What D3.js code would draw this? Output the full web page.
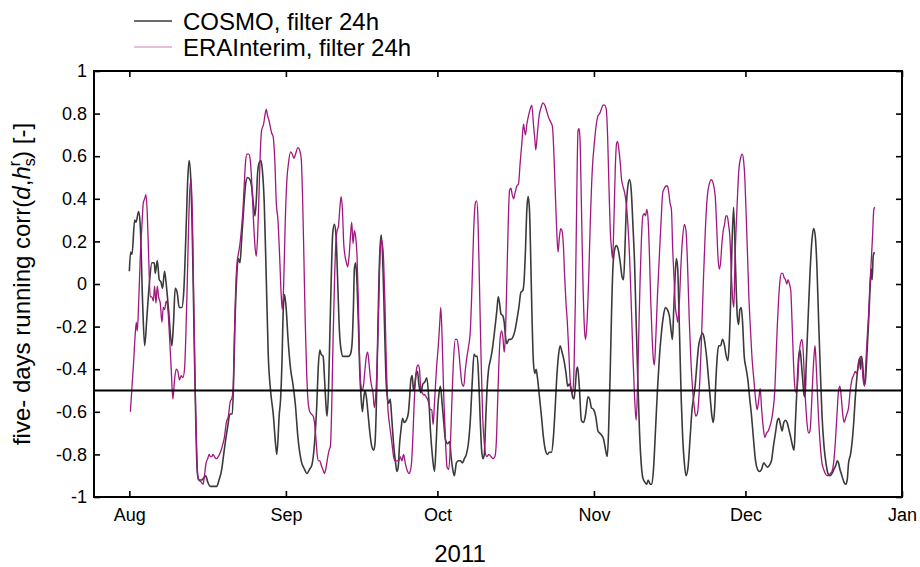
<!DOCTYPE html>
<html>
<head>
<meta charset="utf-8">
<script src="https://cdn.jsdelivr.net/npm/d3@7"></script>
<style>
  html, body { margin: 0; padding: 0; background: #fff; }
  svg { display: block; font-family: "Liberation Sans", Arial, Helvetica, sans-serif; }
</style>
</head>
<body>
<svg id="chart" width="920" height="567"></svg>
<script>
// ---------------- data (day offset from 2011-08-01, correlation) ----------------
const startDate = new Date(2011, 7, 1);
const seriesNames = ["COSMO, filter 24h", "ERAInterim, filter 24h"];
const monthTicks = ["2011-08-01", "2011-09-01", "2011-10-01", "2011-11-01", "2011-12-01", "2012-01-01"];
const monthLabels = ["Aug", "Sep", "Oct", "Nov", "Dec", "Jan"];
const yTicks = [1, 0.8, 0.6, 0.4, 0.2, 0, -0.2, -0.4, -0.6, -0.8, -1];
const thresholdValue = -0.5;
const xTitle = "2011";

const cosmo = [
[0.00,0.06],[0.26,0.15],[0.53,0.14],[1.05,0.30],[1.32,0.29],[1.84,0.34],[2.17,0.27],[2.63,-0.09],[3.03,-0.29],[3.49,-0.15],
[3.95,0.00],[4.47,0.10],[4.93,0.10],[5.13,0.05],[5.53,0.11],[5.92,0.02],[6.25,0.01],[6.58,-0.02],[6.97,0.06],[7.30,0.00],
[7.76,-0.12],[8.42,-0.29],[8.75,-0.18],[9.08,-0.02],[9.47,-0.04],[9.87,-0.11],[10.39,-0.11],[10.79,-0.03],[11.25,0.27],[11.58,0.50],
[11.84,0.58],[12.17,0.49],[12.50,0.19],[12.89,-0.33],[13.16,-0.65],[13.42,-0.87],[13.68,-0.92],[14.34,-0.92],[14.74,-0.91],[15.13,-0.90],
[15.53,-0.93],[15.99,-0.95],[16.64,-0.95],[17.30,-0.95],[17.76,-0.92],[18.29,-0.87],[18.68,-0.80],[19.08,-0.73],[19.47,-0.67],[19.93,-0.61],
[20.39,-0.61],[20.66,-0.44],[20.92,-0.18],[21.25,0.03],[21.58,0.12],[21.91,0.10],[22.24,0.21],[22.63,0.35],[23.03,0.47],[23.42,0.50],
[23.88,0.49],[24.21,0.46],[24.54,0.38],[24.87,0.32],[25.13,0.39],[25.39,0.52],[25.72,0.57],[26.05,0.58],[26.32,0.54],[26.71,0.38],
[27.11,0.03],[27.50,-0.33],[27.96,-0.50],[28.49,-0.61],[28.95,-0.75],[29.21,-0.80],[29.69,-0.61],[29.95,-0.54],[30.22,-0.37],[30.48,-0.12],
[30.74,-0.05],[31.07,-0.12],[31.40,-0.25],[31.93,-0.40],[32.39,-0.47],[32.85,-0.56],[33.38,-0.72],[34.03,-0.83],[34.69,-0.87],[35.15,-0.89],
[35.68,-0.87],[36.14,-0.85],[36.66,-0.75],[37.13,-0.56],[37.39,-0.40],[37.72,-0.31],[37.98,-0.33],[38.38,-0.34],[38.64,-0.44],[38.97,-0.58],
[39.16,-0.62],[39.43,-0.50],[39.69,-0.25],[39.95,0.00],[40.28,0.24],[40.61,0.28],[40.94,0.22],[41.27,0.00],[41.60,-0.22],[41.93,-0.31],
[42.32,-0.34],[42.91,-0.34],[43.38,-0.34],[43.77,-0.33],[44.10,-0.28],[44.36,-0.12],[44.56,0.07],[44.82,0.10],[45.09,0.00],[45.35,-0.18],
[45.61,-0.40],[45.88,-0.53],[46.14,-0.60],[46.40,-0.54],[46.66,-0.50],[46.93,-0.53],[47.19,-0.59],[47.59,-0.69],[47.98,-0.76],[48.38,-0.78],
[48.64,-0.75],[48.90,-0.58],[49.16,-0.28],[49.43,0.03],[49.69,0.19],[49.89,0.23],[50.15,0.13],[50.48,-0.15],[50.81,-0.44],[51.14,-0.54],
[51.40,-0.56],[51.66,-0.54],[51.93,-0.62],[52.32,-0.75],[52.72,-0.84],[52.98,-0.88],[53.24,-0.86],[53.51,-0.75],[53.77,-0.69],[54.10,-0.63],
[54.43,-0.65],[54.82,-0.64],[55.22,-0.61],[55.48,-0.54],[55.74,-0.45],[56.01,-0.43],[56.27,-0.50],[56.53,-0.47],[56.80,-0.42],[57.06,-0.41],
[57.32,-0.47],[57.72,-0.51],[58.11,-0.47],[58.51,-0.46],[58.90,-0.44],[59.30,-0.54],[59.63,-0.69],[60.02,-0.81],[60.42,-0.88],[60.75,-0.75],
[61.08,-0.58],[61.40,-0.50],[61.60,-0.48],[61.93,-0.56],[62.26,-0.65],[62.59,-0.73],[63.05,-0.75],[63.44,-0.74],[63.71,-0.81],[64.04,-0.87],
[64.36,-0.90],[64.76,-0.84],[65.15,-0.83],[65.55,-0.83],[65.94,-0.84],[66.34,-0.82],[66.73,-0.80],[67.13,-0.75],[67.52,-0.64],[67.92,-0.45],
[68.25,-0.33],[68.58,-0.34],[68.90,-0.34],[69.23,-0.48],[69.50,-0.65],[69.76,-0.78],[70.02,-0.82],[70.29,-0.80],[70.55,-0.65],[70.81,-0.50],
[71.14,-0.40],[71.47,-0.36],[71.86,-0.31],[72.13,-0.26],[72.52,-0.18],[72.79,-0.12],[73.05,-0.06],[73.31,-0.09],[73.58,-0.14],[73.97,-0.15],
[74.23,-0.18],[74.50,-0.25],[74.76,-0.28],[75.15,-0.26],[75.55,-0.26],[75.94,-0.25],[76.34,-0.22],[76.73,-0.17],[77.13,-0.11],[77.52,-0.04],
[77.92,-0.03],[78.18,0.02],[78.44,0.16],[78.71,0.35],[78.97,0.41],[79.23,0.35],[79.50,0.10],[79.76,-0.18],[80.02,-0.37],[80.29,-0.42],
[80.55,-0.40],[80.81,-0.44],[81.21,-0.53],[81.60,-0.62],[82.00,-0.72],[82.39,-0.78],[82.79,-0.80],[83.18,-0.79],[83.58,-0.79],[83.97,-0.72],
[84.30,-0.59],[84.63,-0.44],[84.96,-0.34],[85.29,-0.29],[85.68,-0.32],[86.08,-0.36],[86.47,-0.42],[86.80,-0.48],[87.13,-0.47],[87.53,-0.50],
[87.79,-0.53],[88.05,-0.54],[88.31,-0.48],[88.58,-0.40],[88.77,-0.39],[89.10,-0.48],[89.51,-0.64],[89.97,-0.65],[90.36,-0.61],[90.82,-0.53],
[91.15,-0.54],[91.48,-0.58],[91.94,-0.59],[92.34,-0.62],[92.80,-0.69],[93.13,-0.70],[93.52,-0.71],[93.92,-0.73],[94.31,-0.78],[94.64,-0.81],
[94.90,-0.69],[95.23,-0.40],[95.50,-0.12],[95.76,0.08],[96.09,0.16],[96.42,0.18],[96.81,0.16],[97.21,0.10],[97.60,0.03],[97.86,0.02],
[98.13,0.16],[98.39,0.35],[98.72,0.46],[99.05,0.49],[99.38,0.44],[99.71,0.28],[100.04,0.10],[100.36,-0.18],[100.69,-0.45],[101.02,-0.69],
[101.35,-0.84],[101.68,-0.91],[102.07,-0.93],[102.47,-0.94],[102.73,-0.92],[103.13,-0.94],[103.46,-0.94],[103.79,-0.87],[104.18,-0.69],[104.57,-0.50],
[104.97,-0.34],[105.36,-0.23],[105.76,-0.15],[106.15,-0.11],[106.55,-0.12],[106.94,-0.15],[107.34,-0.23],[107.54,-0.26],[107.80,-0.12],[108.06,0.03],
[108.32,0.12],[108.59,0.07],[108.79,-0.09],[109.05,-0.33],[109.31,-0.56],[109.57,-0.72],[109.90,-0.84],[110.23,-0.90],[110.63,-0.86],[111.02,-0.73],
[111.42,-0.59],[111.75,-0.53],[112.07,-0.47],[112.34,-0.39],[112.73,-0.29],[113.13,-0.25],[113.46,-0.23],[113.79,-0.25],[114.05,-0.29],[114.38,-0.36],
[114.71,-0.45],[115.04,-0.54],[115.36,-0.62],[115.63,-0.65],[115.89,-0.59],[116.15,-0.45],[116.42,-0.34],[116.68,-0.29],[117.07,-0.29],[117.47,-0.26],
[117.86,-0.29],[118.13,-0.33],[118.52,-0.36],[118.78,-0.28],[119.05,-0.09],[119.31,0.16],[119.65,0.36],[120.05,0.07],[120.38,-0.15],[120.64,-0.19],
[120.90,-0.12],[121.17,-0.11],[121.43,-0.18],[121.76,-0.34],[122.15,-0.40],[122.48,-0.45],[122.81,-0.53],[123.21,-0.62],[123.60,-0.73],[124.00,-0.83],
[124.39,-0.87],[124.78,-0.88],[125.18,-0.87],[125.64,-0.84],[125.97,-0.85],[126.36,-0.86],[126.76,-0.85],[127.15,-0.83],[127.55,-0.76],[127.94,-0.70],
[128.34,-0.64],[128.60,-0.63],[128.93,-0.66],[129.26,-0.69],[129.59,-0.65],[129.92,-0.64],[130.25,-0.65],[130.57,-0.68],[130.97,-0.72],[131.23,-0.75],
[131.63,-0.78],[131.89,-0.65],[132.22,-0.48],[132.55,-0.34],[132.81,-0.31],[133.07,-0.37],[133.34,-0.45],[133.60,-0.52],[133.80,-0.53],[134.00,-0.40],
[134.39,-0.17],[134.78,0.05],[135.18,0.21],[135.51,0.26],[135.84,0.22],[136.17,0.07],[136.50,-0.18],[136.82,-0.40],[137.15,-0.61],[137.55,-0.76],
[137.94,-0.84],[138.34,-0.89],[138.73,-0.90],[139.13,-0.89],[139.52,-0.87],[139.92,-0.85],[140.18,-0.83],[140.44,-0.84],[140.71,-0.87],[141.10,-0.90],
[141.50,-0.93],[141.89,-0.94],[142.15,-0.92],[142.42,-0.84],[142.81,-0.80],[143.21,-0.72],[143.47,-0.64],[143.73,-0.54],[144.06,-0.44],[144.39,-0.37],
[144.59,-0.35],[144.79,-0.40],[144.98,-0.34],[145.18,-0.37],[145.44,-0.45],[145.71,-0.47],[145.97,-0.37],[146.23,-0.25],[146.50,-0.12],[146.76,0.02],
[146.96,0.07],[147.09,0.02],[147.29,0.13],[147.55,0.15]
];

const era = [
[0.20,-0.60],[0.53,-0.48],[0.86,-0.36],[1.18,-0.23],[1.38,-0.18],[1.58,-0.22],[1.84,-0.09],[2.17,0.13],[2.50,0.28],[2.76,0.38],
[3.03,0.40],[3.29,0.42],[3.55,0.33],[3.82,0.13],[4.14,-0.06],[4.47,-0.06],[4.74,-0.08],[5.00,-0.01],[5.26,-0.09],[5.53,-0.01],
[5.79,-0.06],[6.12,-0.09],[6.45,-0.18],[6.71,-0.11],[6.97,-0.12],[7.30,-0.08],[7.63,-0.12],[7.96,-0.25],[8.29,-0.40],[8.62,-0.54],
[8.95,-0.45],[9.28,-0.40],[9.61,-0.41],[9.93,-0.45],[10.26,-0.43],[10.59,-0.44],[10.92,-0.40],[11.18,-0.25],[11.45,-0.01],[11.71,0.25],
[11.97,0.44],[12.24,0.49],[12.50,0.30],[12.76,-0.09],[13.03,-0.48],[13.29,-0.75],[13.55,-0.90],[13.82,-0.92],[14.21,-0.93],[14.61,-0.94],
[14.87,-0.90],[15.20,-0.84],[15.53,-0.82],[15.79,-0.80],[16.05,-0.81],[16.32,-0.81],[16.58,-0.80],[16.84,-0.81],[17.24,-0.82],[17.63,-0.81],
[18.03,-0.79],[18.42,-0.76],[18.82,-0.72],[19.21,-0.65],[19.61,-0.62],[20.00,-0.55],[20.26,-0.54],[20.53,-0.50],[20.79,-0.25],[21.05,-0.03],
[21.32,0.10],[21.58,0.14],[21.91,0.19],[22.24,0.27],[22.50,0.35],[22.76,0.47],[23.03,0.58],[23.29,0.61],[23.68,0.61],[23.95,0.58],
[24.21,0.49],[24.54,0.32],[24.87,0.18],[25.13,0.13],[25.39,0.22],[25.66,0.41],[25.92,0.61],[26.18,0.72],[26.58,0.75],[26.84,0.79],
[27.11,0.82],[27.37,0.79],[27.63,0.77],[27.89,0.74],[28.16,0.71],[28.49,0.69],[28.82,0.57],[29.10,0.38],[29.43,0.30],[29.76,0.13],
[30.09,-0.06],[30.28,-0.12],[30.55,-0.01],[30.88,0.30],[31.20,0.49],[31.53,0.57],[31.93,0.62],[32.26,0.61],[32.59,0.59],[32.91,0.61],
[33.38,0.64],[33.70,0.63],[34.03,0.59],[34.30,0.41],[34.56,0.13],[34.82,-0.17],[35.09,-0.40],[35.35,-0.54],[35.61,-0.59],[36.01,-0.61],
[36.40,-0.62],[36.66,-0.65],[36.93,-0.72],[37.19,-0.80],[37.45,-0.83],[37.72,-0.83],[37.98,-0.85],[38.31,-0.87],[38.64,-0.89],[38.97,-0.86],
[39.30,-0.81],[39.56,-0.78],[39.82,-0.76],[40.09,-0.56],[40.35,-0.25],[40.61,0.00],[40.88,0.19],[41.14,0.25],[41.40,0.27],[41.66,0.35],
[41.93,0.41],[42.19,0.35],[42.45,0.19],[42.72,0.13],[42.98,0.10],[43.24,0.08],[43.51,0.13],[43.77,0.22],[44.03,0.29],[44.30,0.19],
[44.56,0.25],[44.82,0.22],[45.09,0.13],[45.35,-0.09],[45.61,-0.37],[45.88,-0.48],[46.14,-0.50],[46.40,-0.47],[46.66,-0.40],[46.93,-0.34],
[47.19,-0.32],[47.45,-0.37],[47.72,-0.44],[47.98,-0.48],[48.24,-0.51],[48.51,-0.58],[48.77,-0.53],[49.03,-0.40],[49.30,-0.18],[49.56,0.07],
[49.82,0.21],[50.09,0.19],[50.35,0.11],[50.61,-0.09],[50.88,-0.37],[51.14,-0.56],[51.47,-0.65],[51.80,-0.71],[52.06,-0.76],[52.32,-0.81],
[52.59,-0.83],[52.85,-0.83],[53.11,-0.83],[53.38,-0.83],[53.64,-0.81],[53.97,-0.83],[54.30,-0.80],[54.56,-0.83],[54.82,-0.86],[55.09,-0.88],
[55.35,-0.89],[55.61,-0.88],[55.88,-0.84],[56.14,-0.72],[56.40,-0.56],[56.66,-0.45],[56.93,-0.39],[57.19,-0.38],[57.45,-0.40],[57.72,-0.50],
[57.98,-0.51],[58.24,-0.52],[58.51,-0.52],[58.77,-0.53],[59.03,-0.54],[59.30,-0.56],[59.63,-0.59],[59.89,-0.59],[60.15,-0.66],[60.42,-0.56],
[60.81,-0.40],[61.21,-0.28],[61.47,-0.18],[61.67,-0.11],[61.93,-0.25],[62.26,-0.53],[62.59,-0.73],[62.92,-0.86],[63.25,-0.87],[63.58,-0.75],
[63.90,-0.53],[64.23,-0.34],[64.56,-0.26],[64.89,-0.26],[65.22,-0.31],[65.55,-0.40],[65.88,-0.47],[66.21,-0.48],[66.54,-0.40],[66.86,-0.34],
[67.19,-0.29],[67.52,-0.22],[67.85,-0.01],[68.18,0.25],[68.51,0.38],[68.77,0.39],[69.04,0.30],[69.30,0.03],[69.63,-0.33],[69.96,-0.62],
[70.29,-0.75],[70.55,-0.80],[70.81,-0.81],[71.21,-0.80],[71.60,-0.81],[72.00,-0.82],[72.39,-0.81],[72.65,-0.75],[72.92,-0.56],[73.18,-0.37],
[73.44,-0.25],[73.71,-0.22],[73.97,-0.25],[74.23,-0.32],[74.50,-0.22],[74.76,0.03],[75.02,0.28],[75.29,0.44],[75.55,0.45],[75.81,0.42],
[76.08,0.40],[76.40,0.43],[76.73,0.46],[77.06,0.47],[77.39,0.57],[77.72,0.66],[78.05,0.75],[78.25,0.72],[78.44,0.70],[78.71,0.75],
[79.04,0.79],[79.36,0.82],[79.69,0.84],[80.02,0.75],[80.29,0.68],[80.48,0.63],[80.81,0.71],[81.14,0.79],[81.54,0.83],[81.86,0.85],
[82.26,0.84],[82.66,0.81],[83.05,0.78],[83.44,0.76],[83.77,0.74],[84.04,0.63],[84.30,0.46],[84.63,0.25],[84.89,0.15],[85.16,0.22],
[85.42,0.26],[85.68,0.25],[85.95,0.18],[86.21,0.03],[86.47,-0.09],[86.73,-0.18],[87.00,-0.31],[87.26,-0.44],[87.53,-0.50],[87.79,-0.51],
[88.05,-0.40],[88.31,-0.09],[88.58,0.38],[88.84,0.72],[89.04,0.73],[89.24,0.68],[89.51,0.38],[89.84,-0.01],[90.17,-0.23],[90.36,-0.26],
[90.63,-0.18],[90.96,0.03],[91.29,0.30],[91.68,0.54],[92.07,0.66],[92.47,0.75],[92.80,0.79],[93.13,0.80],[93.46,0.82],[93.79,0.84],
[94.11,0.84],[94.44,0.82],[94.71,0.69],[94.97,0.46],[95.23,0.25],[95.50,0.16],[95.69,0.12],[95.96,0.30],[96.22,0.54],[96.48,0.66],
[96.68,0.67],[96.94,0.63],[97.21,0.57],[97.47,0.49],[97.73,0.46],[98.06,0.43],[98.39,0.38],[98.72,0.28],[99.05,0.13],[99.38,-0.09],
[99.71,-0.33],[100.04,-0.53],[100.36,-0.64],[100.63,-0.48],[100.89,-0.22],[101.15,0.03],[101.42,0.22],[101.68,0.32],[101.94,0.33],[102.21,0.32],
[102.47,0.35],[102.73,0.30],[103.00,0.13],[103.26,-0.09],[103.52,-0.25],[103.79,-0.36],[103.98,-0.38],[104.25,-0.25],[104.57,-0.06],[104.97,0.14],
[105.30,0.30],[105.63,0.43],[105.96,0.45],[106.29,0.46],[106.55,0.46],[106.81,0.43],[107.07,0.38],[107.34,0.35],[107.60,0.16],[107.86,0.03],
[108.13,-0.11],[108.39,-0.15],[108.59,-0.18],[108.92,-0.08],[109.25,0.10],[109.57,0.22],[109.90,0.28],[110.23,0.25],[110.56,0.07],[110.89,-0.18],
[111.22,-0.37],[111.55,-0.50],[111.88,-0.58],[112.14,-0.62],[112.47,-0.61],[112.86,-0.50],[113.26,-0.28],[113.65,0.00],[114.05,0.25],[114.44,0.41],
[114.84,0.47],[115.23,0.49],[115.63,0.47],[116.02,0.41],[116.29,0.28],[116.55,0.13],[116.81,0.07],[117.07,0.10],[117.34,0.19],[117.60,0.25],
[117.86,0.28],[118.13,0.32],[118.39,0.32],[118.65,0.28],[118.92,0.22],[119.18,0.07],[119.44,-0.06],[119.71,-0.11],[119.92,0.10],[120.31,0.35],
[120.71,0.54],[121.03,0.59],[121.36,0.61],[121.63,0.58],[121.89,0.49],[122.15,0.32],[122.42,0.13],[122.68,-0.06],[123.01,-0.22],[123.34,-0.36],
[123.67,-0.45],[124.00,-0.54],[124.32,-0.59],[124.65,-0.54],[124.92,-0.49],[125.18,-0.58],[125.51,-0.67],[125.84,-0.72],[126.17,-0.70],[126.50,-0.69],
[126.82,-0.67],[127.15,-0.64],[127.48,-0.59],[127.81,-0.50],[128.07,-0.34],[128.34,-0.18],[128.60,-0.06],[128.86,0.02],[129.13,0.05],[129.39,0.05],
[129.65,0.03],[129.92,0.02],[130.18,0.00],[130.44,0.02],[130.71,0.00],[130.97,-0.03],[131.23,-0.18],[131.50,-0.36],[131.76,-0.48],[132.02,-0.51],
[132.29,-0.48],[132.55,-0.36],[132.88,-0.28],[133.21,-0.26],[133.47,-0.33],[133.73,-0.48],[134.00,-0.59],[134.26,-0.67],[134.52,-0.70],[134.78,-0.69],
[135.05,-0.59],[135.31,-0.45],[135.57,-0.34],[135.77,-0.29],[135.97,-0.36],[136.23,-0.50],[136.50,-0.64],[136.82,-0.76],[137.15,-0.84],[137.48,-0.87],
[137.81,-0.89],[138.14,-0.90],[138.47,-0.90],[138.80,-0.89],[139.13,-0.88],[139.46,-0.84],[139.78,-0.75],[140.11,-0.62],[140.44,-0.50],[140.71,-0.48],
[140.97,-0.53],[141.30,-0.62],[141.56,-0.65],[141.82,-0.63],[142.09,-0.61],[142.42,-0.58],[142.75,-0.50],[143.08,-0.45],[143.41,-0.43],[143.73,-0.41],
[144.00,-0.42],[144.26,-0.40],[144.52,-0.36],[144.79,-0.34],[145.05,-0.37],[145.31,-0.45],[145.58,-0.48],[145.84,-0.37],[146.11,-0.25],[146.37,-0.15],
[146.63,-0.01],[146.89,0.10],[147.16,0.22],[147.42,0.35],[147.62,0.36]
];

// ---------------- layout ----------------
const svg = d3.select("#chart");
const frame = { left: 94, right: 902, top: 71, bottom: 497 };
const colors = { cosmo: "#3a3a3a", era: "#a0177f" };

const dayToDate = d => new Date(startDate.getTime() + d * 86400000);

const x = d3.scaleTime()
  .domain([new Date(2011, 6, 25), new Date(2012, 0, 1)])
  .range([frame.left, frame.right]);
const y = d3.scaleLinear()
  .domain([-1, 1])
  .range([frame.bottom, frame.top]);

const monthDates = monthTicks.map(s => { const p = s.split("-"); return new Date(+p[0], +p[1] - 1, +p[2]); });
const fmtY = d => String(Math.round(d * 10) / 10);

// clip
svg.append("defs").append("clipPath").attr("id", "clip")
  .append("rect").attr("x", frame.left).attr("y", frame.top)
  .attr("width", frame.right - frame.left).attr("height", frame.bottom - frame.top);

// lines
const line = d3.line()
  .x(d => x(dayToDate(d[0])))
  .y(d => y(d[1]))
  .curve(d3.curveMonotoneX);

const plot = svg.append("g").attr("clip-path", "url(#clip)");
plot.append("path").datum(cosmo)
  .attr("fill", "none").attr("stroke", colors.cosmo).attr("stroke-width", 1.6)
  .attr("stroke-linejoin", "round").attr("d", line);
plot.append("path").datum(era)
  .attr("fill", "none").attr("stroke", colors.era).attr("stroke-width", 1.3)
  .attr("stroke-linejoin", "round").attr("d", line);

// threshold line
svg.append("line")
  .attr("x1", frame.left).attr("x2", frame.right)
  .attr("y1", y(thresholdValue)).attr("y2", y(thresholdValue))
  .attr("stroke", "#000").attr("stroke-width", 2);

// axes (inward ticks on all four sides)
const tickLen = 6;
const axisFont = "18px";
const bottomAxis = d3.axisBottom(x).tickValues(monthDates).tickSize(-tickLen).tickPadding(11)
  .tickFormat((d, i) => monthLabels[i]);
const topAxis = d3.axisTop(x).tickValues(monthDates).tickSize(-tickLen).tickFormat("");
const leftAxis = d3.axisLeft(y).tickValues(yTicks).tickSize(-tickLen).tickPadding(7).tickFormat(fmtY);
const rightAxis = d3.axisRight(y).tickValues(yTicks).tickSize(-tickLen).tickFormat("");

function styleAxis(g) {
  g.select(".domain").remove();
  g.selectAll(".tick line").attr("stroke", "#000").attr("stroke-width", 1.6);
  g.selectAll(".tick text").attr("fill", "#000").style("font-size", axisFont)
    .style("font-family", '"Liberation Sans", Arial, sans-serif');
}
svg.append("g").attr("transform", `translate(0,${frame.bottom})`).call(bottomAxis).call(styleAxis);
svg.append("g").attr("transform", `translate(0,${frame.top})`).call(topAxis).call(styleAxis);
svg.append("g").attr("transform", `translate(${frame.left},0)`).call(leftAxis).call(styleAxis);
svg.append("g").attr("transform", `translate(${frame.right},0)`).call(rightAxis).call(styleAxis);

// frame
svg.append("rect")
  .attr("x", frame.left).attr("y", frame.top)
  .attr("width", frame.right - frame.left).attr("height", frame.bottom - frame.top)
  .attr("fill", "none").attr("stroke", "#000").attr("stroke-width", 2);

// x title
svg.append("text")
  .attr("x", (frame.left + frame.right) / 2 - 38).attr("y", 562)
  .attr("text-anchor", "middle").style("font-size", "24px").attr("fill", "#000")
  .text(xTitle);

// y title with math
const yt = svg.append("text")
  .attr("transform", `translate(30,${(frame.top + frame.bottom) / 2}) rotate(-90)`)
  .attr("text-anchor", "middle").style("font-size", "24px").attr("fill", "#000");
yt.append("tspan").text("five- days running corr(");
yt.append("tspan").style("font-style", "italic").text("d");
yt.append("tspan").text(",");
yt.append("tspan").style("font-style", "italic").text("h");
yt.append("tspan").attr("dy", 5).style("font-size", "16px").text("s");
yt.append("tspan").attr("dx", -8).attr("dy", -15).style("font-size", "16px").text("r");
yt.append("tspan").attr("dx", 2).attr("dy", 10).text(") [-]");

// legend
const legend = svg.append("g");
const legendItems = [
  { name: seriesNames[0], color: colors.cosmo, w: 1.3 },
  { name: seriesNames[1], color: colors.era, w: 1.0 }
];
legendItems.forEach((it, i) => {
  const ly = 21 + i * 26;
  legend.append("line").attr("x1", 134).attr("x2", 172).attr("y1", ly).attr("y2", ly)
    .attr("stroke", it.color).attr("stroke-width", it.w).attr("stroke-opacity", i === 1 ? 0.55 : 1);
  legend.append("text").attr("x", 183).attr("y", ly + 9)
    .style("font-size", "24px").attr("fill", "#000").text(it.name);
});
</script>
</body>
</html>
